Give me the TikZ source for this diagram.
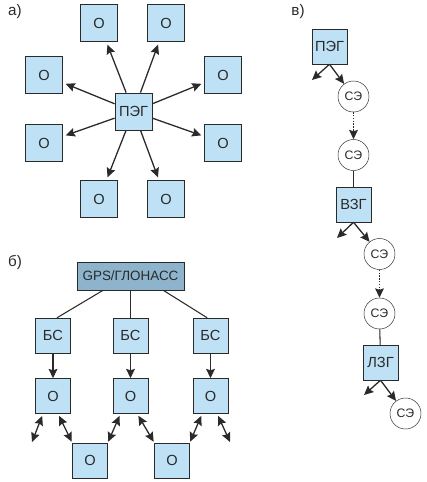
\documentclass[tikz,border=0pt]{standalone}
\usepackage{fontspec}
\setmainfont{Liberation Sans}
\usetikzlibrary{arrows.meta}
\definecolor{boxblue}{HTML}{BFE1F5}
\definecolor{gpsblue}{HTML}{8DB4CC}
\definecolor{ink}{HTML}{2A2A2A}
\begin{document}
\begin{tikzpicture}[
    x=0.3mm, y=-0.3mm,
    every node/.style={font=\fontsize{12.5}{14}\selectfont, text=ink},
    obj/.style={draw=ink, fill=boxblue, minimum size=11.2mm, inner sep=0pt},
    sm/.style={draw=ink, fill=boxblue, minimum size=10.5mm, inner sep=0pt},
    gps/.style={draw=ink, fill=gpsblue, minimum width=32.1mm, minimum height=8.4mm, inner sep=0pt, font=\fontsize{11.5}{13}\selectfont},
    se/.style={draw=ink, circle, fill=white, minimum size=9.3mm, inner sep=0pt, font=\fontsize{10.5}{12}\selectfont},
    lbl/.style={font=\fontsize{13}{15}\selectfont},
    flow/.style={-{Stealth[length=2.8mm, width=2.6mm, inset=0.4mm]}, line width=1.1pt, ink},
    both/.style={{Stealth[length=2.8mm, width=2.6mm, inset=0.4mm]}-{Stealth[length=2.8mm, width=2.6mm, inset=0.4mm]}, line width=1.1pt, ink},
    link/.style={line width=0.9pt, ink},
    dots/.style={dash pattern=on 1.2pt off 1.2pt},
]
\useasboundingbox (0,0) rectangle (426,482);

% a)
\node[lbl] (la) at (15,12) {а)};
\node[obj] (pega) at (133.5,111.5) {ПЭГ};
\node[obj] (a1) at (99,23) {О};
\node[obj] (a2) at (166,23) {О};
\node[obj] (a3) at (44,75) {О};
\node[obj] (a4) at (223,75) {О};
\node[obj] (a5) at (44,143) {О};
\node[obj] (a6) at (223,143) {О};
\node[obj] (a7) at (99,199) {О};
\node[obj] (a8) at (166,199) {О};
\foreach \i in {1,...,8}
    \draw[flow, shorten >=2.5pt] (pega) -- (a\i);

% b)
\node[lbl] (lb) at (15,262) {б)};
\node[gps] (gps) at (130.5,276) {GPS/ГЛОНАСС};
\node[sm] (bs1) at (53,335.5) {БС};
\node[sm] (bs2) at (130.5,335.5) {БС};
\node[sm] (bs3) at (210.5,335.5) {БС};
\node[sm] (o1) at (53,396) {О};
\node[sm] (o2) at (130.5,396) {О};
\node[sm] (o3) at (210.5,396) {О};
\node[sm] (p1) at (90,460.5) {О};
\node[sm] (p2) at (172,460.5) {О};
\coordinate (f1) at (32,442);
\coordinate (f2) at (230,442);
\draw[link] ([xshift=-8.2mm]gps.south) -- ([xshift=1.2mm]bs1.north);
\draw[link] (gps) -- (bs2);
\draw[link] ([xshift=9.8mm]gps.south) -- ([xshift=-1mm]bs3.north);
\foreach \i in {1,2,3}
    \draw[flow] (bs\i) -- (o\i);
\draw[both, shorten <=2pt] ([xshift=-3mm]o1.south) -- (f1);
\draw[both, shorten <=2pt, shorten >=1pt] ([xshift=1.5mm]o1.south) -- (p1.north west);
\draw[both, shorten <=1pt, shorten >=2pt] (p1.north east) -- ([xshift=-3mm]o2.south);
\draw[both, shorten <=2pt, shorten >=1pt] ([xshift=2mm]o2.south) -- (p2.north west);
\draw[both, shorten <=1pt, shorten >=2pt] (p2.north east) -- ([xshift=-2.5mm]o3.south);
\draw[both, shorten <=2pt] ([xshift=2mm]o3.south) -- (f2);

% v)
\node[lbl] (lv) at (298,12) {в)};
\node[sm] (pegv) at (329.5,46.5) {ПЭГ};
\node[se] (se1) at (353.5,96.5) {СЭ};
\node[se] (se2) at (353.5,155) {СЭ};
\node[sm] (vzg) at (353.5,204.5) {ВЗГ};
\node[se] (se3) at (379.5,254) {СЭ};
\node[se] (se4) at (379.5,313.5) {СЭ};
\node[sm] (lzg) at (380.5,362.5) {ЛЗГ};
\node[se] (se5) at (405.5,413.5) {СЭ};
\coordinate (v1) at (312,80);
\coordinate (v2) at (337,238);
\coordinate (v3) at (364,395);
\draw[flow] (pegv.south) -- (v1);
\draw[flow] (pegv.south) -- (se1);
\draw[flow, dots] (se1) -- (se2);
\draw[link] (se2) -- (vzg);
\draw[flow] (vzg.south) -- (v2);
\draw[flow] (vzg.south) -- (se3);
\draw[flow, dots] (se3) -- (se4);
\draw[link] (se4) -- (lzg);
\draw[flow] (lzg.south) -- (v3);
\draw[flow] (lzg.south) -- (se5);
\end{tikzpicture}
\end{document}
